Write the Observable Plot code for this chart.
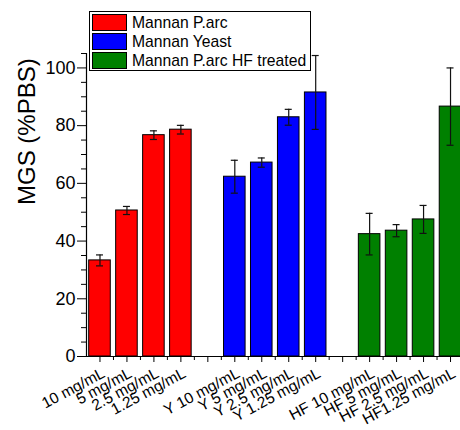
<!DOCTYPE html>
<html><head><meta charset="utf-8">
<script src="https://cdn.jsdelivr.net/npm/d3@7"></script>
<script src="https://cdn.jsdelivr.net/npm/@observablehq/plot@0.6"></script>
<style>
body{margin:0;background:#fff;font-family:"Liberation Sans",Arial,sans-serif;}
#wrap{position:relative;width:460px;height:430px;overflow:hidden;}
#legend{position:absolute;left:89px;top:11px;width:220px;height:58px;border:1px solid #000;background:#fff;}
.row{position:absolute;left:2px;height:17px;display:flex;align-items:center;}
.sw{width:33px;height:15px;border:1px solid #000;margin-right:5px;}
.lab{font-size:15.7px;line-height:17px;color:#000;white-space:nowrap;}
</style></head>
<body><div id="wrap"><div id="chart"></div><div id="legend"></div></div>
<script>
const seriesNames = ["Mannan P.arc", "Mannan Yeast", "Mannan P.arc HF treated"];
const seriesColors = ["#ff0000", "#0000ff", "#008000"];
const labels = ["10 mg/mL", "5 mg/mL", "2.5 mg/mL", "1.25 mg/mL",
  "Y 10 mg/mL", "Y 5 mg/mL", "Y 2.5 mg/mL", "Y 1.25 mg/mL",
  "HF 10 mg/mL", "HF 5 mg/mL", "HF 2.5 mg/mL", "HF1.25 mg/mL"];
const positions = [1, 2, 3, 4, 6, 7, 8, 9, 11, 12, 13, 14];
const seriesIndex = [0, 0, 0, 0, 1, 1, 1, 1, 2, 2, 2, 2];
const values = [33.3, 50.6, 76.7, 78.6, 62.3, 67.2, 82.9, 91.5, 42.4, 43.6, 47.5, 86.6];
const errors = [1.9, 1.4, 1.5, 1.5, 5.7, 1.6, 2.75, 12.8, 7.2, 2.1, 4.85, 13.4];
const yTicks = [0, 20, 40, 60, 80, 100];
const yMinorTicks = [5, 10, 15, 25, 30, 35, 45, 50, 55, 65, 70, 75, 85, 90, 95, 105];
const xTicks = [1, 2, 3, 4, 5, 6, 7, 8, 9, 10, 11, 12, 13, 14];
const xMinorTicks = [1.5, 2.5, 3.5, 4.5, 5.5, 6.5, 7.5, 8.5, 9.5, 10.5, 11.5, 12.5, 13.5];
const xDomain = [0.5, 14.37];
const yDomain = [0, 105];

const data = labels.map((l, i) => ({
  label: l, pos: positions[i], value: values[i], err: errors[i],
  series: seriesNames[seriesIndex[i]]
}));

const barHalf = 0.4, capHalf = 0.13;

const chart = Plot.plot({
  width: 460, height: 430,
  marginLeft: 86, marginRight: 0, marginTop: 53, marginBottom: 74,
  style: {fontFamily: '"Liberation Sans", Arial, sans-serif', background: "#fff", color: "#000", overflow: "visible"},
  x: {domain: xDomain, axis: null},
  y: {domain: yDomain, axis: null},
  color: {domain: seriesNames, range: seriesColors},
  marks: [
    Plot.rectY(data, {x1: d => d.pos - barHalf, x2: d => d.pos + barHalf, y1: 0, y2: "value",
      fill: "series", stroke: "#000", strokeWidth: 1}),
    Plot.ruleX(data, {x: "pos", y1: d => d.value - d.err, y2: d => d.value + d.err, stroke: "#111", strokeWidth: 1.2}),
    Plot.ruleY(data, {y: d => d.value + d.err, x1: d => d.pos - capHalf, x2: d => d.pos + capHalf, stroke: "#111", strokeWidth: 1.2}),
    Plot.ruleY(data, {y: d => d.value - d.err, x1: d => d.pos - capHalf, x2: d => d.pos + capHalf, stroke: "#111", strokeWidth: 1.2}),
    Plot.axisY({ticks: yTicks, tickSize: 9, tickPadding: 2, fontSize: 18, label: null, stroke: "#000"}),
    Plot.axisY({ticks: yMinorTicks, tickSize: 5, tickFormat: () => "", label: null, stroke: "#000"}),
    Plot.axisX({ticks: xTicks, tickSize: 6, tickFormat: () => "", label: null, stroke: "#000"}),
    Plot.axisX({ticks: xMinorTicks, tickSize: 4, tickFormat: () => "", label: null, stroke: "#000"}),
    Plot.ruleX([xDomain[0]], {y1: yDomain[0], y2: yDomain[1], stroke: "#000", strokeWidth: 1.2}),
    Plot.ruleY([yDomain[0]], {x1: xDomain[0], x2: xDomain[1], stroke: "#000", strokeWidth: 1.2}),
    Plot.text(data, {x: "pos", text: "label", frameAnchor: "bottom", dy: 20, dx: 6,
      rotate: -28, textAnchor: "end", lineAnchor: "bottom", fontSize: 15.5, fill: "#000"}),
    Plot.text(["MGS (%PBS)"], {frameAnchor: "left", dx: -59, rotate: -90, fontSize: 24, fill: "#000"})
  ]
});
document.getElementById("chart").appendChild(chart);

const legend = document.getElementById("legend");
const rowTops = [1.5, 20.8, 40];
seriesNames.forEach((name, i) => {
  const row = document.createElement("div");
  row.className = "row";
  row.style.top = rowTops[i] + "px";
  const sw = document.createElement("div");
  sw.className = "sw";
  sw.style.background = seriesColors[i];
  const lab = document.createElement("span");
  lab.className = "lab";
  lab.textContent = name;
  row.appendChild(sw); row.appendChild(lab);
  legend.appendChild(row);
});
</script>
</body></html>
